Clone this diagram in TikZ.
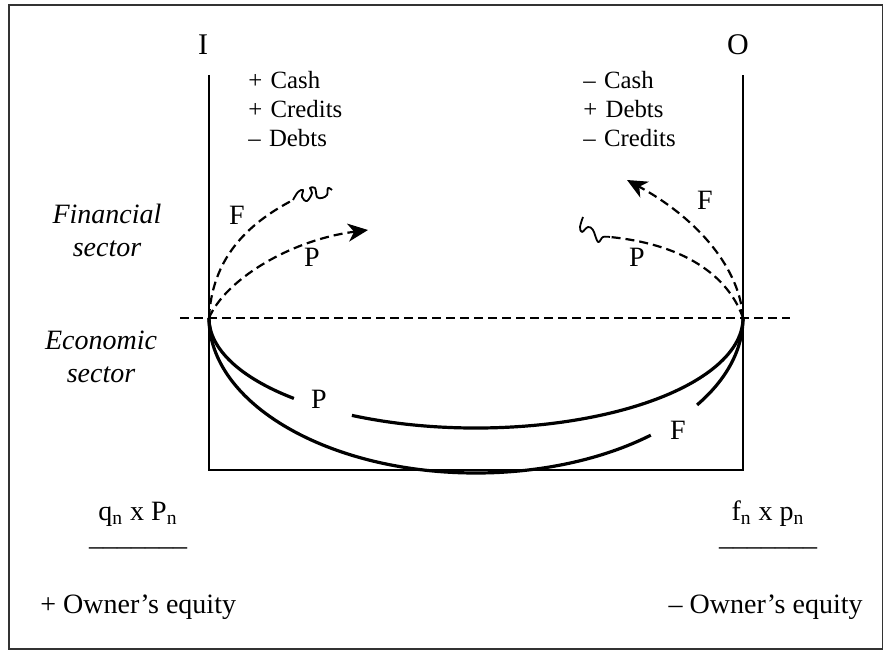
\documentclass[tikz,border=0pt]{standalone}
\usepackage{fontspec}
\setmainfont{Liberation Serif}
\usepackage{tikz}
\usetikzlibrary{arrows.meta, positioning, calc}
\tikzset{
  framebox/.style={draw=black!80, line width=1pt},
  wall/.style={draw=black, line width=0.9pt},
  sectorline/.style={draw=black, line width=0.9pt, dash pattern=on 4.5pt off 2.5pt},
  flowline/.style={draw=black, line width=1.6pt},
  flowdash/.style={draw=black, line width=1.1pt, dash pattern=on 4.5pt off 2.5pt},
  flowarrow/.style={flowdash, -{Stealth[length=10pt, width=9pt, inset=3pt]}},
  squiggle/.style={draw=black, line width=0.9pt, line join=round},
  listtxt/.style={inner sep=0pt, text width=70pt, align=left,
    text height=9pt, text depth=3pt, font=\fontsize{12.4}{14.5}\selectfont},
  headtxt/.style={inner sep=0pt, font=\fontsize{15}{18}\selectfont},
  sectortxt/.style={inner sep=0pt, align=center,
    font=\itshape\fontsize{14}{16.5}\selectfont},
  bottomtxt/.style={inner sep=0pt, font=\fontsize{14}{16}\selectfont},
  bartxt/.style={bottomtxt, text height=0pt, text depth=3pt}
}

\begin{document}
\begin{tikzpicture}[x=0.5pt, y=-0.5pt,
  lbl/.style={inner sep=1pt, font=\fontsize{14}{16}\selectfont}
]
  \useasboundingbox (0,0) rectangle (883,652);
  \draw[framebox] (9,5) rectangle (882.5,649);

  % the two accounts
  \coordinate (itop) at (209,75);
  \coordinate (ibot) at (209,470);
  \coordinate (otop) at (743,75);
  \coordinate (obot) at (743,470);
  \draw[wall] (itop) -- (ibot) -- (obot) -- (otop);

  \node[headtxt, anchor=base] (inlbl) at (203,55) {I};
  \node[headtxt, anchor=base] (outlbl) at (738,55) {O};

  \node[listtxt, anchor=base west] (lc1) at (248,89) {+ Cash};
  \node[listtxt, below=2pt of lc1] (lc2) {+ Credits};
  \node[listtxt, below=2pt of lc2] (lc3) {\textendash{} Debts};

  \node[listtxt, anchor=base west] (rc1) at (583,89) {\textendash{} Cash};
  \node[listtxt, below=2pt of rc1] (rc2) {+ Debts};
  \node[listtxt, below=2pt of rc2] (rc3) {\textendash{} Credits};

  % sectors
  \coordinate (dl) at (180,318);
  \coordinate (dr) at (790,318);
  \draw[sectorline] (dl) -- (dr);
  \node[sectortxt, anchor=north] (finsec) at (107,204) {Financial\\sector};
  \node[sectortxt, anchor=north] (ecosec) at (101,331) {Economic\\sector};

  % financial flows
  \coordinate (lft) at (209,318);
  \coordinate (rgt) at (743,318);
  \coordinate (ctr) at ($(lft)!0.5!(rgt)$);
  \coordinate (lFend) at (293,200);
  \coordinate (lPtip) at (368,230);
  \coordinate (rFtip) at (627,180);
  \coordinate (rPend) at (610,237);

  \draw[flowdash] (lft) .. controls (212,260) and (245,225) .. (lFend);
  \draw[squiggle] plot[smooth, tension=0.6] coordinates {(293,200) (298,192) (303,190)
    (302,197) (307,201) (312,193) (310,188) (315,188) (317,197) (322,198) (327,195)
    (328,188) (332,190)};
  \draw[flowarrow] (lft) .. controls (225,280) and (290,240) .. (lPtip);
  \draw[flowarrow] (rgt) .. controls (740,270) and (700,220) .. (rFtip);
  \draw[flowdash] (rgt) .. controls (730,280) and (690,245) .. (rPend);
  \draw[squiggle] plot[smooth, tension=0.6] coordinates {(610,237) (603,237) (598,242)
    (593,230) (588,227) (582,232) (580,227) (583,217)};

  \node[lbl] (lF) at (237,215) {F};
  \node[lbl] (lP) at (312,257) {P};
  \node[lbl] (rF) at (705,200) {F};
  \node[lbl] (rP) at (637,257) {P};

  % economic flows
  \draw[flowline] (lft) arc[start angle=180, end angle=227, x radius=133.5pt, y radius=55pt];
  \draw[flowline] ([shift={(242.3:133.5pt and 55pt)}]ctr)
    arc[start angle=242.3, end angle=360, x radius=133.5pt, y radius=55pt];
  \draw[flowline] (lft) arc[start angle=180, end angle=310.9, x radius=133.5pt, y radius=77.5pt];
  \draw[flowline] ([shift={(325.9:133.5pt and 77.5pt)}]ctr)
    arc[start angle=325.9, end angle=360, x radius=133.5pt, y radius=77.5pt];
  \node[lbl] (eP) at (319,399) {P};
  \node[lbl] (eF) at (678,430) {F};

  % prices and equity
  \node[bottomtxt, anchor=base] (qP) at (138,520) {q\textsubscript{n} x P\textsubscript{n}};
  \node[bartxt, anchor=base] (qPbar) at (138,545) {\_\_\_\_\_\_\_};
  \node[bottomtxt, anchor=base west] (inown) at (40,613) {+ Owner’s equity};
  \node[bottomtxt, anchor=base] (fp) at (768,520) {f\textsubscript{n} x p\textsubscript{n}};
  \node[bartxt, anchor=base] (fpbar) at (768,545) {\_\_\_\_\_\_\_};
  \node[bottomtxt, anchor=base east] (outown) at (863,613) {\textendash{} Owner’s equity};
\end{tikzpicture}
\end{document}
